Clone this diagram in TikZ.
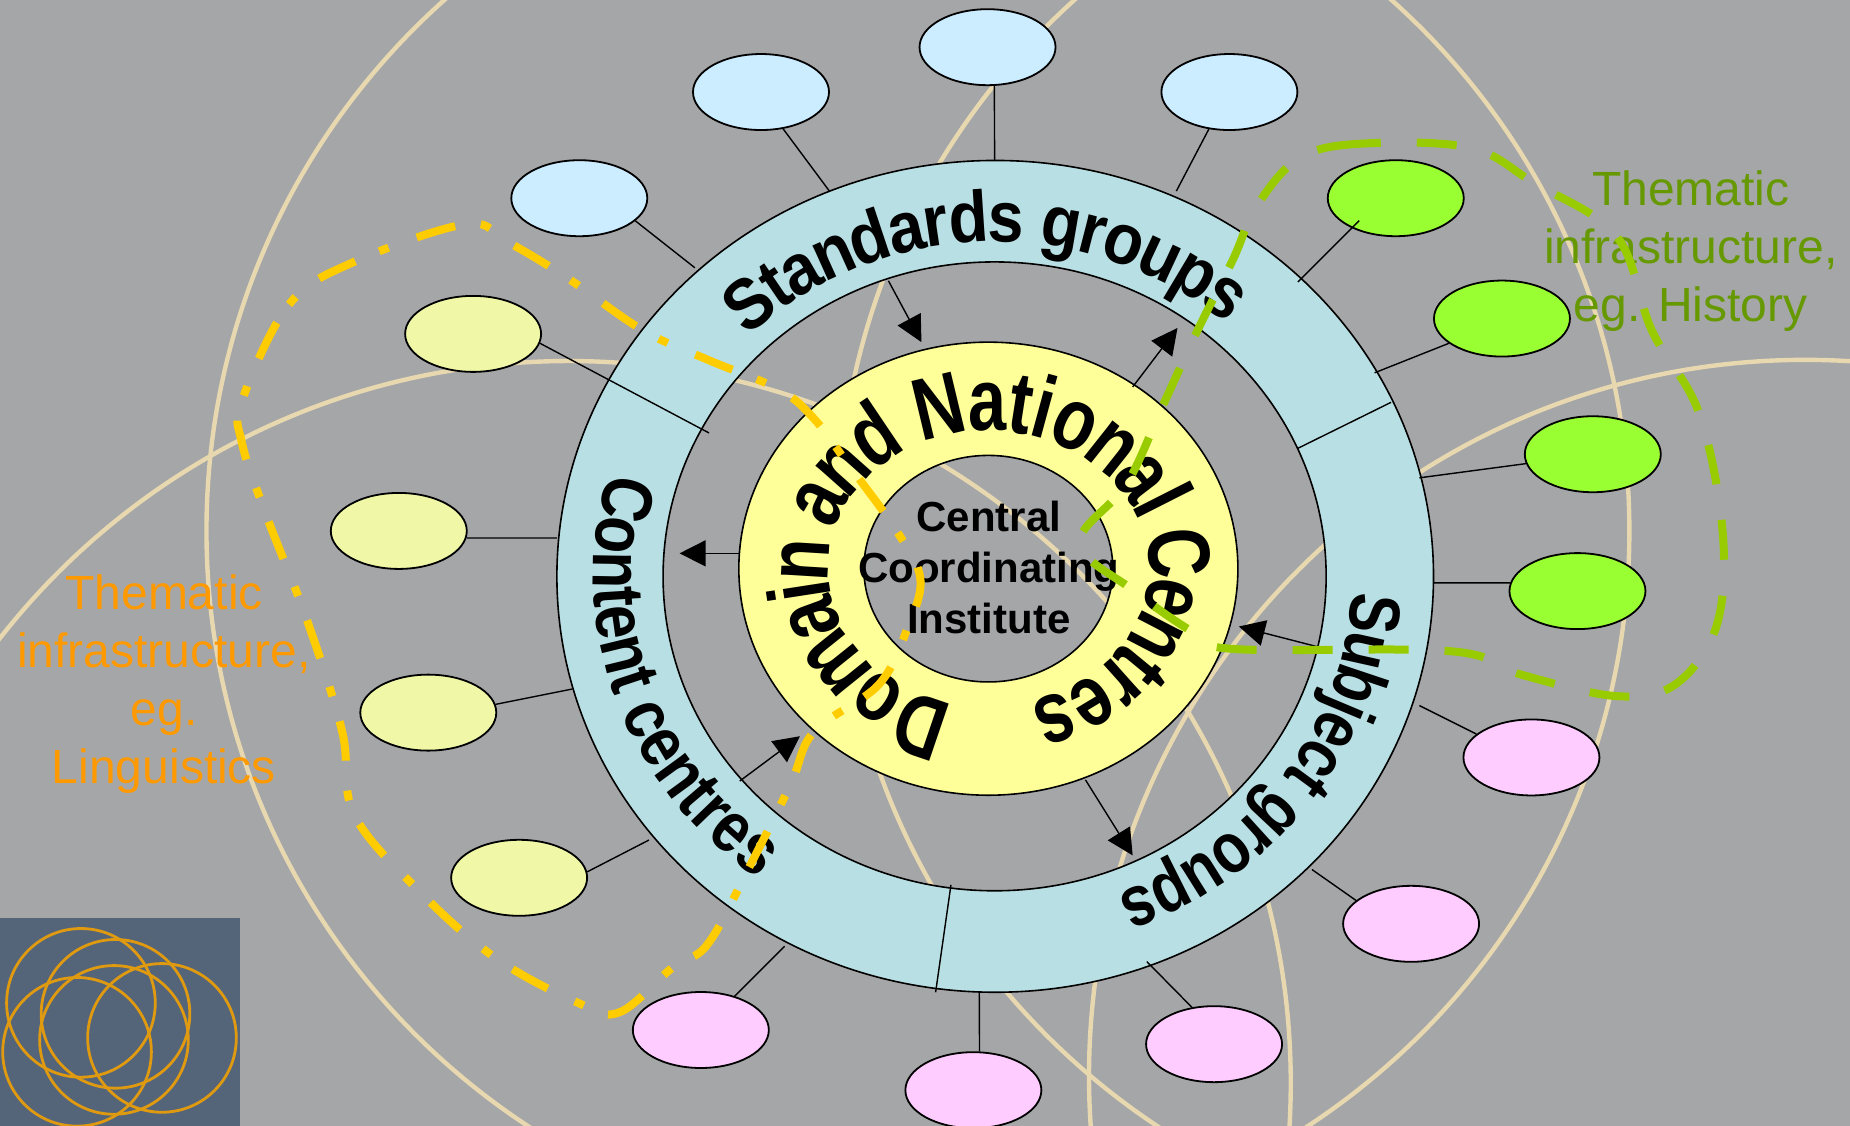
\documentclass[tikz,border=0pt]{standalone}
\usepackage{fontspec}
\usetikzlibrary{shapes.geometric,arrows.meta}
\setmainfont{Liberation Sans}
\newfontfamily\standardsfamily[FakeStretch=0.9]{Liberation Sans Bold}
\newfontfamily\contentfamily[FakeStretch=0.84]{Liberation Sans Bold}
\newfontfamily\subjectfamily[FakeStretch=0.82]{Liberation Sans Bold}
\newfontfamily\corefamily[FakeStretch=0.78]{Liberation Sans Bold}
\newcommand\fontstandards{\standardsfamily\fontsize{36}{42}\selectfont}
\newcommand\fontcontent{\contentfamily\fontsize{36}{42}\selectfont}
\newcommand\fontsubject{\subjectfamily\fontsize{36}{42}\selectfont}
\newcommand\fontcore{\corefamily\fontsize{44}{50}\selectfont}
\definecolor{bggray}{HTML}{A5A6A8}
\definecolor{bgring}{HTML}{E8D8B0}
\definecolor{logobox}{HTML}{54657A}
\definecolor{logoring}{HTML}{E09A10}
\definecolor{ringblue}{HTML}{B8DFE3}
\definecolor{ringyellow}{HTML}{FFFF99}
\definecolor{nodeblue}{HTML}{CCECFF}
\definecolor{nodegreen}{HTML}{99FF33}
\definecolor{nodepink}{HTML}{FFCCFF}
\definecolor{nodekhaki}{HTML}{F0F8A8}
\definecolor{dashyellow}{HTML}{FFCC00}
\definecolor{dashgreen}{HTML}{99CC00}
\definecolor{txtorange}{HTML}{FF9900}
\definecolor{txtgreen}{HTML}{669900}
\tikzset{
  oval/.style={ellipse,draw=black,line width=0.9pt,minimum width=68pt,minimum height=38pt,inner sep=0pt},
  link/.style={draw=black,line width=0.7pt},
  flow/.style={draw=black,line width=0.7pt,-{Triangle[length=13pt,width=13pt]}},
  ringline/.style={draw=black,line width=0.8pt},
  bgcircle/.style={draw=bgring,line width=2.2pt},
  logocircle/.style={draw=logoring,line width=1.4pt},
  yellowroute/.style={draw=dashyellow,line width=4pt,dash pattern=on 20pt off 13pt on 5pt off 15pt,dash phase=33pt},
  greenroute/.style={draw=dashgreen,line width=4pt,dash pattern=on 20pt off 18pt,dash phase=8pt},
  sidelabel/.style={align=center,inner sep=0pt,font=\fontsize{24}{29}\selectfont},
  centerlabel/.style={align=center,inner sep=0pt,font=\bfseries\fontsize{21}{25.7}\selectfont}
}
\newcounter{arcch}
% #1 cx, #2 cy, #3 rx, #4 ry, #5 start param, #6 end param, #7 font, #8 char/width list, #9 total width
\newcommand\arcletters[9]{%
  \gdef\cumw{0}%
  \pgfmathsetmacro\sgnval{ifthenelse(#6>#5,1,-1)}%
  \foreach \ch/\chw in {#8}{%
    \pgfmathsetmacro\tval{#5+(#6-#5)*(\cumw+\chw/2)/#9}%
    \pgfmathsetmacro\rotval{atan2(-\sgnval*#4*cos(\tval),-\sgnval*#3*sin(\tval))}%
    \ifx\ch\empty\else
      \stepcounter{arcch}%
      \node[anchor=base,inner sep=0pt,rotate=\rotval,font=#7] (ch\arabic{arcch}) at ({#1+#3*cos(\tval)},{#2+#4*sin(\tval)}) {\ch};
    \fi
    \pgfmathsetmacro\newcumw{\cumw+\chw}%
    \xdef\cumw{\newcumw}%
  }%
}
\begin{document}
\begin{tikzpicture}[x=0.59pt,y=-0.59pt]
\useasboundingbox (0,0) rectangle (1568,954);
\fill[bggray] (0,0) rectangle (1568,954);
\begin{scope}
\clip (0,0) rectangle (1568,954);
\draw[bgcircle] (778,450) circle[radius=603];
\draw[bgcircle] (482,918) circle[radius=612];
\draw[bgcircle] (1315,450) circle[radius=605];
\draw[bgcircle] (1530,912) circle[radius=607];
% logo
\fill[logobox] (0,778) rectangle (203.4,954);
\draw[logocircle] (68.6,850) circle[radius=63];
\draw[logocircle] (97.9,859.3) circle[radius=63];
\draw[logocircle] (96.6,881.4) circle[radius=63];
\draw[logocircle] (137.3,879.7) circle[radius=63];
\draw[logocircle] (65.3,891.5) circle[radius=63];
\end{scope}
% rings
\path[ringline,fill=ringblue,even odd rule]
  (843.5,488.5) ellipse[x radius=371.5,y radius=352.5]
  (843,488.5) ellipse[x radius=281,y radius=266.5];
\path[ringline,fill=ringyellow,even odd rule]
  (837.7,482) ellipse[x radius=211.5,y radius=192]
  (837.7,482) ellipse[x radius=105.5,y radius=96];
% ovals
\node[oval,fill=nodeblue] (b1) at (837,40) {};
\node[oval,fill=nodeblue] (b2) at (645,78) {};
\node[oval,fill=nodeblue] (b3) at (1042,78) {};
\node[oval,fill=nodeblue] (b4) at (491,168) {};
\node[oval,fill=nodegreen] (g1) at (1183,168) {};
\node[oval,fill=nodegreen] (g2) at (1273,270) {};
\node[oval,fill=nodegreen] (g3) at (1350,385) {};
\node[oval,fill=nodegreen] (g4) at (1337,501) {};
\node[oval,fill=nodepink] (p1) at (1298,642) {};
\node[oval,fill=nodepink] (p2) at (1196,783) {};
\node[oval,fill=nodepink] (p3) at (1029,885) {};
\node[oval,fill=nodepink] (p4) at (825,924) {};
\node[oval,fill=nodepink] (p5) at (594,873) {};
\node[oval,fill=nodekhaki] (k1) at (401,283) {};
\node[oval,fill=nodekhaki] (k2) at (338,450) {};
\node[oval,fill=nodekhaki] (k3) at (363,604) {};
\node[oval,fill=nodekhaki] (k4) at (440,744) {};
% connector free ends
\coordinate (eb1) at (843,136);
\coordinate (eb2) at (703,162);
\coordinate (eb3) at (997,162);
\coordinate (eb4) at (589,227);
\coordinate (sg1) at (1152,187);
\coordinate (eg1) at (1100,239);
\coordinate (eg2) at (1165,316);
\coordinate (eg3) at (1203,405);
\coordinate (eg4) at (1215,494);
\coordinate (ep1) at (1203,598);
\coordinate (ep2) at (1112,737);
\coordinate (ep3) at (972,815);
\coordinate (ep4) at (830,841);
\coordinate (ep5) at (665,802);
\coordinate (ek1) at (601,367);
\coordinate (ek2) at (472,456);
\coordinate (ek3) at (485,584);
\coordinate (ek4) at (550,712);
\draw[link] (b1.-80) -- (eb1);
\draw[link] (b2.-59) -- (eb2);
\draw[link] (b3.-119) -- (eb3);
\draw[link] (b4.-22) -- (eb4);
\draw[link] (sg1) -- (eg1);
\draw[link] (g2.205) -- (eg2);
\draw[link] (g3.188) -- (eg3);
\draw[link] (g4.173) -- (eg4);
\draw[link] (p1.157.6) -- (ep1);
\draw[link] (p2.157.4) -- (ep2);
\draw[link] (p3.121.5) -- (ep3);
\draw[link] (p4.81) -- (ep4);
\draw[link] (p5.45) -- (ep5);
\draw[link] (k1.-8) -- (ek1);
\draw[link] (k2.-6) -- (ek2);
\draw[link] (k3.7) -- (ek3);
\draw[link] (k4.5) -- (ek4);
% dividers
\coordinate (d1a) at (1179,341);
\coordinate (d1b) at (1100,380);
\coordinate (d2a) at (806,750);
\coordinate (d2b) at (793,841);
\draw[link] (d1a) -- (d1b);
\draw[link] (d2a) -- (d2b);
% arrows
\coordinate (a1s) at (753,238);
\coordinate (a1e) at (781,290);
\coordinate (a2s) at (960,328);
\coordinate (a2e) at (998,278);
\coordinate (a3s) at (627,469);
\coordinate (a3e) at (576,469);
\coordinate (a4s) at (627,662);
\coordinate (a4e) at (678,624);
\coordinate (a5s) at (920,661);
\coordinate (a5e) at (960,725);
\coordinate (a6s) at (1116,548);
\coordinate (a6e) at (1050,531);
\draw[flow] (a1s) -- (a1e);
\draw[flow] (a2s) -- (a2e);
\draw[flow] (a3s) -- (a3e);
\draw[flow] (a4s) -- (a4e);
\draw[flow] (a5s) -- (a5e);
\draw[flow] (a6s) -- (a6e);
% curved text
\arcletters{843}{488}{300}{283}{226}{311}{\fontstandards}{S/.667,t/.333,a/.556,n/.611,d/.611,a/.556,r/.389,d/.611,s/.556,{}/.278,g/.611,r/.389,o/.611,u/.611,p/.611,s/.556}{8.563}
\arcletters{843}{488}{340}{318}{196}{126}{\fontcontent}{C/.722,o/.611,n/.611,t/.333,e/.556,n/.611,t/.333,{}/.278,c/.556,e/.556,n/.611,t/.333,r/.389,e/.556,s/.556}{7.612}
\arcletters{843}{488}{303}{287}{3}{70}{\fontsubject}{S/.667,u/.611,b/.611,j/.278,e/.556,c/.556,t/.333,{}/.278,g/.611,r/.389,o/.611,u/.611,p/.611,s/.556}{7.279}
\arcletters{838}{482}{136}{117}{103}{435}{\fontcore}{D/.722,o/.611,m/.889,a/.556,i/.278,n/.611,{}/.278,a/.556,n/.611,d/.611,{}/.278,N/.722,a/.556,t/.333,i/.278,o/.611,n/.611,a/.556,l/.278,{}/.278,C/.722,e/.556,n/.611,t/.333,r/.389,e/.556,s/.556}{13.947}
% center and side text
\node[centerlabel] (center) at (838,481) {Central\\Coordinating\\Institute};
\node[sidelabel,text=txtorange] (lab1) at (139,580) {Thematic\\infrastructure,\\eg.\\Linguistics};
\node[sidelabel,text=txtgreen] (lab2) at (1433,213) {Thematic\\infrastructure,\\eg. History};
% dashed routes
\draw[yellowroute] plot[smooth cycle,tension=0.6] coordinates {(205,340) (245,258) (300,222) (395,190) (430,205) (480,235) (545,280) (600,305) (660,330) (690,355) (720,395) (760,450) (780,490) (770,530) (745,580) (690,620) (670,665) (635,735) (600,800) (570,820) (525,858) (490,850) (420,812) (355,755) (300,690) (290,620) (260,525) (225,435) (205,375)};
\draw[greenroute] plot[smooth cycle,tension=0.6] coordinates {(1100,135) (1150,122) (1245,125) (1300,155) (1370,200) (1400,280) (1440,350) (1460,450) (1455,530) (1420,580) (1370,590) (1290,572) (1230,552) (1045,550) (1010,535) (960,500) (915,460) (955,410) (985,345) (1015,280) (1045,220) (1065,175)};
\end{tikzpicture}
\end{document}
